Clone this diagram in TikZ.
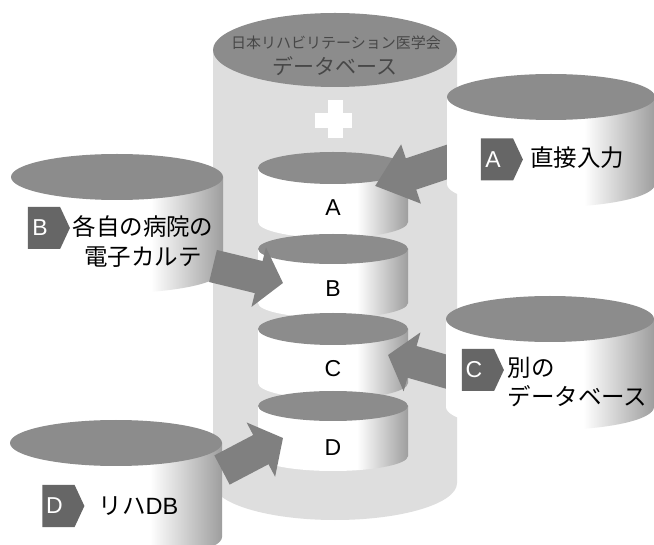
\documentclass[tikz,border=0pt]{standalone}
\usepackage{fontspec}
\usepackage{tikz}
\usepackage{xcolor}
\usetikzlibrary{arrows.meta,shapes.symbols}

\setmainfont{Liberation Sans}
\newfontfamily\jpfont{Noto Sans CJK JP}

\definecolor{dbtopcolor}{gray}{0.55}
\definecolor{dbwallcolor}{gray}{0.87}
\definecolor{flowcolor}{gray}{0.5}
\definecolor{badgecolor}{gray}{0.4}

% white wall that turns grey towards its right edge
\pgfdeclarehorizontalshading{dbside}{100bp}{color(0bp)=(white); color(25bp)=(white); color(58bp)=(white); color(75bp)=(black!38); color(100bp)=(black!38)}

\tikzset{
	dbwall/.style={shading=dbside},
	dbtop/.style={fill=dbtopcolor},
	flow/.style={draw=flowcolor, line width=33pt, -{Triangle[length=#1,width=60pt,fill=flowcolor]}},
	flow/.default=25pt,
	badge/.style={signal, signal to=east, signal from=nowhere, signal pointer angle=130, fill=badgecolor, text=white, font=\fontsize{23}{23}\selectfont, inner sep=0pt, minimum width=42pt, minimum height=42pt, execute at end node=\hspace{8pt}},
	layer/.style={font=\fontsize{23}{23}\selectfont},
	src/.style={font=\jpfont\fontsize{23.5}{29.5}\selectfont, align=center, inner sep=0pt},
}

% centre x, top y, x radius, y radius, wall height
\newcommand{\drawdb}[5]{
	\path[dbwall] (#1,#2) ++(-#3,0) -- ++(0,#5) arc[start angle=180, end angle=360, x radius=#3pt, y radius=#4pt] -- ++(0,-#5) -- cycle;
	\path[dbtop] (#1,#2) ellipse (#3pt and #4pt);
}

\begin{document}
\begin{tikzpicture}[x=1pt,y=-1pt]
	\clip (0,0) rectangle (654,545);
	\fill[white] (0,0) rectangle (654,545);

	% the large store
	\path[fill=dbwallcolor] (335,50) ++(-122,0) -- ++(0,433) arc[start angle=180, end angle=360, x radius=122pt, y radius=37pt] -- ++(0,-433) -- cycle;
	\path[dbtop] (335,50) ellipse (122pt and 37pt);
	\node[text=black!72, font=\jpfont\fontsize{15}{15}\selectfont] (title) at (336,43) {日本リハビリテーション医学会};
	\node[text=black!72, font=\jpfont\fontsize{21}{21}\selectfont] (titlesub) at (335,66) {データベース};
	\fill[white] (315,113) rectangle (352,128);
	\fill[white] (328,100) rectangle (343,138);

	% layers
	\drawdb{333}{168}{75}{16}{54}
	\drawdb{333}{249}{75}{15}{54}
	\drawdb{333}{329}{75}{16}{54}
	\drawdb{333}{406}{75}{15}{50}
	\node[layer] (layerA) at (333,208) {A};
	\node[layer] (layerB) at (333,289) {B};
	\node[layer] (layerC) at (333,369) {C};
	\node[layer] (layerD) at (333,448) {D};

	% sources on the left
	\drawdb{117}{177}{106}{23}{93}
	\drawdb{116}{443}{106}{23}{94}

	\coordinate (fromA) at (462,157);
	\coordinate (toA) at (375,186);
	\coordinate (fromB) at (213,266);
	\coordinate (toB) at (283,283);
	\coordinate (fromC) at (458,375);
	\coordinate (toC) at (388,355);
	\coordinate (fromD) at (222,470);
	\coordinate (toD) at (283,438);
	\draw[flow=38pt] (fromA) -- (toA);
	\draw[flow] (fromB) -- (toB);
	\draw[flow] (fromC) -- (toC);
	\draw[flow] (fromD) -- (toD);

	% sources on the right
	\drawdb{551}{97}{104}{23}{87}
	\drawdb{550}{319}{104}{23}{88}

	\node[badge] (badgeA) at (497,159.5) {A};
	\node[badge] (badgeB) at (44,228) {B};
	\node[badge] (badgeC) at (478,370) {C};
	\node[badge] (badgeD) at (58.5,506) {D};

	\node[src] (srcA) at (577,158) {直接入力};
	\node[src] (srcB) at (143,241.5) {各自の病院の\\電子カルテ};
	\node[src, align=left] (srcC) at (577.5,382) {別の\\データベース};
	\node[src] (srcD) at (138.5,506) {リハ{\fontspec{Liberation Sans}DB}};
\end{tikzpicture}
\end{document}
